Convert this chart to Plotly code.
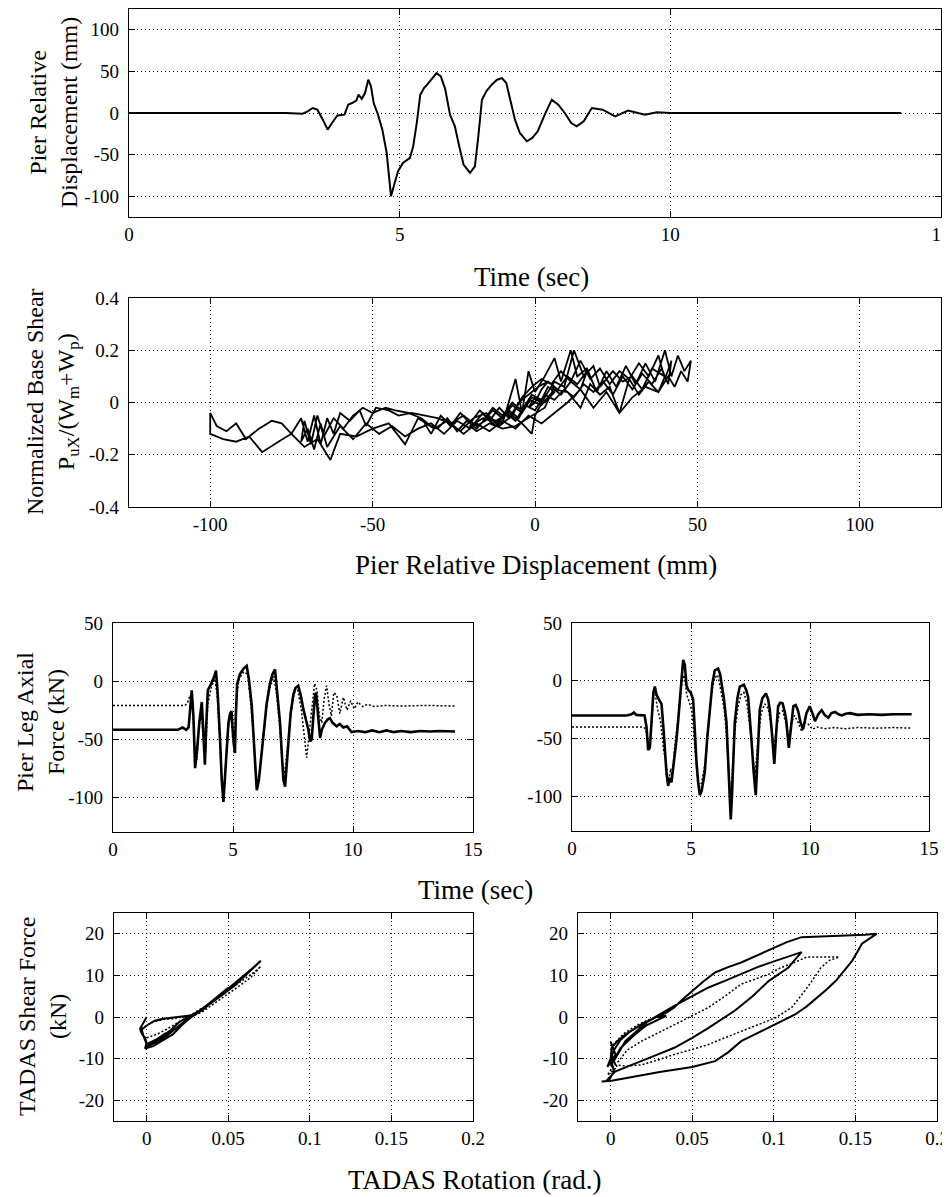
"""Pier displacement, base shear, leg axial force and TADAS hysteresis plots."""

import plotly.graph_objects as go

# ---- panel 1: pier relative displacement vs time ----
disp_time = [0, 2.9, 3.2, 3.3, 3.39, 3.48, 3.58, 3.67, 3.75, 3.85, 3.98, 4.05, 4.12, 4.2,
             4.24, 4.3, 4.36, 4.42, 4.47, 4.52, 4.6, 4.68, 4.76, 4.84, 4.9, 4.97, 5.06,
             5.19, 5.25, 5.32, 5.38, 5.45, 5.52, 5.6, 5.68, 5.76, 5.84, 5.93, 6.02, 6.1,
             6.18, 6.3, 6.39, 6.45, 6.52, 6.6, 6.7, 6.8, 6.89, 6.97, 7.05, 7.13, 7.22,
             7.35, 7.45, 7.55, 7.68, 7.81, 7.93, 8.05, 8.17, 8.27, 8.4, 8.55, 8.75, 8.98,
             9.22, 9.4, 9.53, 9.75, 10.0, 14.26]
disp_mm = [0, 0, -1, 2, 6, 4, -8, -20, -12, -3, -2, 10, 12, 15,
           22, 17, 24, 40, 32, 12, -2, -20, -48, -100, -86, -70, -60,
           -54, -40, -10, 22, 30, 35, 42, 48, 44, 29, -2, -16, -40,
           -62, -72, -64, -30, 16, 26, 34, 40, 42, 36, 14, -8, -24,
           -34, -30, -22, -2, 16, 10, 0, -12, -16, -10, 6, 4, -4,
           3, 0, -2, 1, 0, 0]

# ---- panel 2: normalized base shear vs displacement (displacement mm, shear) ----
base_shear_loop = [
    (0, 0.0), (2, 0.05), (4, 0.08), (6, 0.06), (3, -0.02), (-2, -0.06), (-6, -0.09),
    (-10, -0.1), (-14, -0.08), (-18, -0.11), (-20, -0.09), (-16, -0.06), (-12, -0.07),
    (-8, -0.04), (-4, -0.08), (-1, -0.12), (0, -0.05), (3, 0.02), (6, 0.08), (9, 0.06),
    (12, 0.2), (15, 0.1), (18, 0.14), (20, 0.06), (24, 0.12), (27, 0.08), (30, 0.1),
    (33, 0.05), (36, 0.13), (40, 0.1),
    (38, 0.04), (34, 0.06), (30, 0.02), (26, -0.04), (22, 0.04), (18, -0.02), (14, 0.05),
    (10, 0.0), (6, -0.04), (2, -0.08), (-2, -0.05), (-6, -0.1), (-10, -0.07), (-14, -0.11),
    (-18, -0.08), (-22, -0.12), (-27, -0.07), (-31, -0.1), (-36, -0.06), (-40, -0.16),
    (-45, -0.08), (-50, -0.1), (-55, -0.13), (-60, -0.12), (-63, -0.22), (-67, -0.14),
    (-71, -0.17), (-75, -0.12), (-79, -0.15), (-84, -0.19), (-88, -0.13), (-92, -0.15),
    (-96, -0.14), (-100, -0.12), (-100, -0.04),
    (-98, -0.09), (-95, -0.11), (-92, -0.08), (-89, -0.14), (-85, -0.1), (-81, -0.07),
    (-78, -0.08), (-75, -0.12), (-72, -0.06), (-70, -0.15), (-68, -0.05), (-66, -0.16),
    (-64, -0.06), (-62, -0.12), (-60, -0.04), (-57, -0.07), (-54, -0.03), (-52, -0.09),
    (-49, -0.02), (-45, -0.03), (-42, -0.05), (-38, -0.04), (-34, -0.05), (-30, -0.06),
    (-26, -0.08), (-22, -0.05), (-18, -0.09), (-14, -0.06), (-10, -0.08), (-6, 0.09),
    (-4, -0.04), (-2, 0.12), (0, 0.04), (3, 0.1), (6, 0.17), (8, 0.08), (11, 0.2),
    (13, 0.1), (16, 0.13), (19, 0.04), (22, 0.12), (25, 0.06), (28, 0.14), (31, 0.07),
    (34, 0.15), (37, 0.08), (40, 0.2), (42, 0.1), (44, 0.18), (46, 0.12), (48, 0.16),
    (47, 0.08), (45, 0.12), (43, 0.06), (41, 0.1), (38, 0.04), (35, 0.08), (32, 0.03),
    (29, 0.09), (26, -0.04), (23, 0.06), (20, 0.03), (17, 0.07), (14, -0.02), (10, 0.04),
    (6, 0.05), (2, -0.01), (-2, 0.01), (-5, -0.06), (-8, -0.03), (-12, -0.08), (-16, -0.04),
    (-20, -0.1), (-24, -0.07), (-28, -0.12), (-32, -0.08), (-36, -0.1), (-40, -0.13),
    (-44, -0.09), (-48, -0.12), (-52, -0.08), (-56, -0.14), (-60, -0.09), (-64, -0.17),
    (-66, -0.08), (-68, -0.18), (-70, -0.1), (-72, -0.15),
    (-71, -0.07), (-69, -0.16), (-67, -0.05), (-65, -0.13), (-62, -0.06), (-59, -0.1),
    (-56, -0.05), (-53, -0.02), (-50, -0.04), (-46, -0.02), (-43, -0.03), (-39, -0.04),
    (-35, -0.06), (-31, -0.1), (-27, -0.07), (-23, -0.11), (-19, -0.06), (-15, -0.04),
    (-11, -0.09), (-7, -0.05), (-4, 0.02), (-1, 0.06), (2, 0.09), (5, 0.07), (8, 0.12),
    (11, 0.08), (14, 0.16), (17, 0.09), (20, 0.13), (23, 0.07), (26, 0.12), (29, 0.09),
    (32, 0.15), (35, 0.1), (38, 0.18), (40, 0.09), (42, 0.16),
    (41, 0.07), (39, 0.13), (36, 0.07), (33, 0.11), (30, 0.05), (27, 0.1), (24, 0.03),
    (21, 0.08), (18, 0.04), (15, 0.07), (12, 0.02), (9, 0.05), (6, 0.01), (3, 0.03),
    (0, -0.03), (-3, -0.01), (-6, -0.07), (-9, -0.04), (-12, -0.09), (-15, -0.06),
    (-18, -0.1), (-21, -0.07), (-24, -0.11), (-27, -0.06), (-30, -0.1), (-34, -0.08),
    (-32, -0.12), (-29, -0.05), (-26, -0.09), (-23, -0.04), (-20, -0.08), (-17, -0.03),
    (-14, -0.07), (-11, -0.02), (-8, -0.06), (-5, 0.0), (-2, 0.03), (1, 0.06), (4, 0.08),
    (7, 0.05), (10, 0.1), (13, 0.07), (16, 0.12),
    (14, 0.05), (11, 0.08), (8, 0.03), (5, 0.06), (2, 0.0), (-1, 0.02), (-4, -0.04),
    (-7, -0.01), (-10, -0.06), (-13, -0.03), (-16, -0.07),
    (-13, -0.02), (-10, -0.05), (-7, 0.0), (-4, -0.03), (-1, 0.03), (2, 0.01), (4, 0.06),
    (6, 0.04), (3, 0.0), (0, 0.02), (-2, -0.02), (0, 0.0),
]

# ---- panel 3: pier leg axial force vs time (sec, kN) ----
axial_left_solid = [
    (0, -42), (2.7, -42), (2.9, -40), (3.05, -42), (3.15, -40), (3.28, -8), (3.35, -30),
    (3.42, -75), (3.5, -60), (3.6, -35), (3.7, -18), (3.76, -50), (3.83, -72), (3.88, -40),
    (3.95, -8), (4.05, -4), (4.15, 0), (4.22, 4), (4.29, 9), (4.36, -10), (4.46, -50),
    (4.53, -85), (4.6, -104), (4.66, -85), (4.73, -55), (4.81, -36), (4.88, -28), (4.94, -26),
    (5.01, -50), (5.08, -62), (5.12, -30), (5.17, -3), (5.29, 6), (5.45, 11), (5.57, 13),
    (5.66, 2), (5.78, -21), (5.86, -48), (5.92, -72), (5.99, -94), (6.08, -85), (6.2, -62),
    (6.3, -40), (6.4, -20), (6.54, -2), (6.65, 6), (6.75, 10), (6.85, -10), (6.96, -36),
    (7.04, -65), (7.1, -85), (7.17, -91), (7.24, -72), (7.3, -50), (7.4, -28), (7.51, -12),
    (7.6, -6), (7.72, -4), (7.82, -12), (7.93, -24), (8.05, -33), (8.14, -42), (8.22, -52),
    (8.28, -50), (8.35, -30), (8.42, -12), (8.46, -10), (8.53, -25), (8.63, -49), (8.7, -42),
    (8.83, -36), (8.95, -33), (9.04, -32), (9.15, -36), (9.32, -39), (9.45, -37), (9.6, -40),
    (9.75, -39), (9.94, -44), (10.2, -43), (10.5, -44), (10.8, -42.5), (11.1, -44),
    (11.4, -42.5), (11.7, -44), (12, -43), (12.4, -44), (12.8, -43), (13.2, -43.5),
    (13.6, -43), (14.25, -43.5),
]
axial_left_dotted = [
    (0, -21), (3.0, -21), (3.1, -19), (3.22, -12), (3.3, -15), (3.4, -55), (3.5, -68),
    (3.58, -40), (3.68, -25), (3.78, -55), (3.86, -62), (3.95, -20), (4.1, -5), (4.25, 2),
    (4.35, -15), (4.45, -55), (4.55, -90), (4.62, -96), (4.7, -70), (4.8, -40), (4.9, -30),
    (5.0, -45), (5.06, -55), (5.12, -20), (5.25, 2), (5.45, 8), (5.6, 6), (5.72, -15),
    (5.85, -45), (5.95, -80), (6.05, -88), (6.15, -70), (6.28, -45), (6.42, -18), (6.55, -5),
    (6.7, 4), (6.82, -12), (6.95, -40), (7.05, -70), (7.15, -80), (7.28, -55), (7.4, -30),
    (7.55, -10), (7.7, -8), (7.85, -25), (7.98, -48), (8.07, -66), (8.15, -50), (8.25, -30),
    (8.4, -2), (8.5, -8), (8.6, -30), (8.7, -36), (8.8, -15), (8.9, -4), (9.0, -20),
    (9.1, -30), (9.2, -10), (9.32, -12), (9.45, -28), (9.6, -14), (9.75, -25), (9.9, -17),
    (10.05, -24), (10.2, -18), (10.4, -22), (10.6, -20), (10.9, -22), (11.3, -21),
    (12, -21.5), (13, -21), (14.25, -21.5),
]
axial_right_solid = [
    (0, -30), (2.3, -30), (2.5, -29), (2.6, -27.5), (2.7, -29.5), (3.05, -30), (3.13, -40),
    (3.2, -60), (3.27, -58), (3.35, -30), (3.42, -10), (3.48, -5), (3.55, -12), (3.65, -16),
    (3.76, -20), (3.84, -40), (3.9, -59), (3.97, -80), (4.04, -91), (4.1, -84), (4.18, -88),
    (4.25, -76), (4.32, -65), (4.39, -51), (4.46, -35), (4.53, -16), (4.6, 5), (4.67, 18),
    (4.74, 14), (4.81, -4), (4.88, -8), (4.98, -10), (5.09, -16), (5.16, -45), (5.23, -70),
    (5.3, -88), (5.37, -99), (5.45, -95), (5.58, -79), (5.68, -50), (5.79, -22), (5.9, -2),
    (6.0, 9), (6.14, 10.5), (6.22, 6), (6.28, -2), (6.38, -15), (6.49, -36), (6.56, -70),
    (6.63, -105), (6.67, -120), (6.72, -100), (6.78, -65), (6.84, -36), (6.95, -15),
    (7.05, -5), (7.22, -3.5), (7.32, -8), (7.4, -14), (7.47, -30), (7.54, -51), (7.63, -78),
    (7.72, -99), (7.8, -65), (7.89, -25), (8.0, -15), (8.15, -11), (8.24, -16), (8.31, -25),
    (8.4, -45), (8.5, -72), (8.58, -45), (8.66, -22), (8.75, -19), (8.85, -19.5), (8.95, -28),
    (9.0, -34), (9.11, -58), (9.2, -40), (9.3, -22), (9.4, -21), (9.5, -26), (9.6, -36),
    (9.71, -42), (9.85, -28), (9.99, -22), (10.1, -28), (10.21, -35), (10.35, -29),
    (10.49, -25.5), (10.63, -30), (10.77, -32), (10.9, -28), (11.05, -27), (11.2, -29),
    (11.33, -30), (11.5, -28.5), (11.68, -28), (12.0, -29.5), (12.5, -29), (13.0, -29.5),
    (13.5, -29), (14.27, -29),
]
axial_right_dotted = [
    (0, -40), (3.0, -40), (3.1, -42), (3.2, -55), (3.3, -52), (3.42, -15), (3.5, -12),
    (3.6, -25), (3.72, -35), (3.85, -60), (3.95, -70), (4.05, -88), (4.15, -76), (4.2, -85),
    (4.3, -60), (4.4, -40), (4.5, -22), (4.62, -2), (4.72, 5), (4.82, -12), (4.95, -20),
    (5.05, -28), (5.15, -55), (5.25, -80), (5.35, -92), (5.45, -88), (5.6, -70), (5.72, -40),
    (5.85, -12), (5.98, 2), (6.12, 5), (6.25, -8), (6.4, -25), (6.5, -50), (6.6, -85),
    (6.68, -95), (6.76, -70), (6.86, -40), (6.98, -22), (7.1, -12), (7.22, -10), (7.35, -20),
    (7.5, -45), (7.62, -70), (7.7, -80), (7.82, -50), (7.95, -28), (8.1, -20), (8.25, -24),
    (8.38, -40), (8.48, -58), (8.6, -40), (8.72, -28), (8.85, -26), (9.0, -38), (9.1, -50),
    (9.22, -36), (9.35, -30), (9.5, -36), (9.65, -44), (9.8, -36), (9.95, -38), (10.1, -42),
    (10.3, -40), (10.6, -41.5), (11, -40.5), (11.5, -41.5), (12, -40.5), (12.8, -41),
    (13.5, -40.5), (14.27, -41),
]

# ---- panel 4: TADAS shear force vs rotation (rad, kN) ----
tadas_left_solid = [
    (0.0, 0.0), (-0.002, -1.5), (-0.004, -2.8), (-0.003, -4.0), (-0.001, -5.0), (0.0, -6.2),
    (-0.001, -7.6), (0.004, -7.0), (0.01, -5.6), (0.016, -4.2), (0.022, -1.8), (0.028, 0.2),
    (0.034, 1.8), (0.04, 3.8), (0.046, 5.5), (0.052, 7.4), (0.058, 9.3), (0.064, 11.4),
    (0.07, 13.5), (0.066, 12.0), (0.06, 9.8), (0.054, 7.6), (0.048, 5.8), (0.042, 4.0),
    (0.036, 2.2), (0.03, 0.6), (0.024, -0.8), (0.018, -2.8), (0.012, -4.6), (0.006, -6.0),
    (0.0, -7.2), (0.003, -6.4), (0.008, -5.2), (0.014, -3.4), (0.02, -1.2), (0.026, 0.0),
    (0.032, 1.4), (0.038, 3.2), (0.044, 5.2), (0.05, 7.0), (0.046, 5.6), (0.04, 3.6),
    (0.034, 1.6), (0.028, 0.4), (0.022, 0.1), (0.016, -0.2), (0.01, -0.4), (0.005, -0.9),
    (0.001, -1.8), (-0.003, -3.0), (-0.002, -4.5), (0.0, -6.5), (0.006, -5.4), (0.012, -3.8),
]
tadas_left_dotted = [
    (0.0, -5.0), (0.006, -4.2), (0.012, -3.0), (0.018, -1.6), (0.024, -0.3), (0.03, 1.0),
    (0.036, 2.6), (0.042, 4.2), (0.048, 5.8), (0.054, 7.4), (0.06, 9.0), (0.066, 10.8),
    (0.07, 12.2), (0.064, 9.6), (0.058, 7.8), (0.052, 6.2), (0.046, 4.6), (0.04, 3.0),
    (0.034, 1.2), (0.028, 0.2), (0.022, 0.0), (0.016, -0.4), (0.01, -0.6), (0.004, -1.2),
    (-0.002, -2.5), (-0.004, -3.6),
]
tadas_right_solid = [
    (0.0, -6), (0.003, -9), (-0.002, -12), (0.002, -8), (0.006, -5.5), (0.012, -3.5),
    (0.02, -1.5), (0.028, 0.0), (0.034, 0.3), (0.03, -0.5), (0.022, -2.0), (0.014, -4.5),
    (0.006, -7.5), (0.0006, -11.5),
    (0.009, -5.8), (0.023, -1.0), (0.039, 2.7), (0.05, 5.0), (0.06, 7.1), (0.07, 8.7),
    (0.08, 10.3), (0.09, 12.0), (0.101, 13.5), (0.11, 14.6), (0.117, 15.6),
    (0.113, 13.8), (0.109, 11.9), (0.097, 8.7), (0.087, 5.0), (0.076, 1.5), (0.068, -0.6),
    (0.06, -2.6), (0.05, -5.0), (0.039, -7.4), (0.029, -9.0), (0.019, -10.6),
    (0.0027, -13.1), (-0.003, -15.5),
    (-0.0055, -15.5), (0.0006, -15.3), (0.01, -14.6), (0.019, -13.9), (0.03, -13.2),
    (0.039, -12.7), (0.05, -12.0), (0.064, -10.6), (0.072, -8.5), (0.08, -5.8),
    (0.09, -3.8), (0.101, -1.8), (0.113, 0.6), (0.12, 2.5), (0.127, 4.7), (0.132, 6.5),
    (0.138, 8.7), (0.143, 11.0), (0.148, 13.5), (0.151, 15.5), (0.154, 17.6), (0.16, 19.2),
    (0.163, 20.0),
    (0.156, 19.8), (0.14, 19.6), (0.125, 19.4), (0.117, 19.2), (0.108, 18.0), (0.101, 16.8),
    (0.09, 15.0), (0.08, 13.1), (0.072, 12.0), (0.064, 10.7), (0.057, 8.6), (0.05, 6.3),
    (0.044, 4.2), (0.039, 2.3), (0.034, 1.0), (0.029, 0.2), (0.024, -0.8), (0.019, -1.8),
    (0.014, -3.0), (0.009, -4.2), (0.004, -5.8), (0.0006, -7.4), (0.0, -10),
    (0.002, -13), (-0.001, -15.3),
]
tadas_right_dotted = [
    (0.0, -9), (0.004, -12), (-0.002, -14), (0.002, -11.5), (0.01, -11.8), (0.019, -11.5),
    (0.03, -10.2), (0.039, -9.0), (0.05, -7.8), (0.06, -6.6), (0.07, -5.0), (0.08, -3.4),
    (0.09, -1.8), (0.101, -0.2), (0.111, 2.3), (0.115, 4.2), (0.119, 6.3), (0.124, 9.0),
    (0.129, 11.9), (0.134, 13.6), (0.14, 14.4), (0.13, 14.4), (0.12, 14.4), (0.112, 13.0),
    (0.104, 11.8), (0.097, 10.3), (0.088, 9.0), (0.08, 7.9), (0.07, 5.0), (0.06, 2.3),
    (0.05, 0.3), (0.039, -1.8), (0.03, -3.6), (0.019, -5.8), (0.01, -8.0), (0.005, -10.6),
    (0.0, -12.0), (0.002, -6.5), (0.008, -4.0), (0.016, -2.0), (0.024, -0.5),
]

# ---- tick labels ----
time_ticks = [0, 5, 10, 15]
disp_ticks = [-100, -50, 0, 50, 100]
disp_tick_text = ["-100", "-50", "0", "50", "100"]
shear_ticks = [-0.4, -0.2, 0, 0.2, 0.4]
shear_tick_text = ["-0.4", "-0.2", "0", "0.2", "0.4"]
axial_ticks = [-100, -50, 0, 50]
axial_tick_text = ["-100", "-50", "0", "50"]
rot_ticks = [0, 0.05, 0.1, 0.15, 0.2]
rot_tick_text = ["0", "0.05", "0.1", "0.15", "0.2"]
tadas_ticks = [-20, -10, 0, 10, 20]
tadas_tick_text = ["-20", "-10", "0", "10", "20"]

FONT = "Liberation Serif"
# the page body keeps its default 8px margin, so the figure is drawn 8px in
OFF = 8
W, H = 950 - OFF, 1197 - OFF


def px_x(px):
    return (px - OFF) / W


def px_y(py):
    return 1 - (py - OFF) / H


def axis(x0, x1, rng, tickvals, ticktext, horizontal):
    """Boxed MATLAB-style axis with inside ticks and dotted grid."""
    return dict(
        domain=[x0, x1] if horizontal else [x1, x0],
        range=rng,
        tickmode="array",
        tickvals=tickvals,
        ticktext=ticktext,
        ticks="inside",
        ticklen=6,
        tickwidth=1,
        tickcolor="black",
        showline=True,
        linecolor="black",
        linewidth=1.2,
        mirror="ticks",
        showgrid=True,
        gridcolor="#111111",
        gridwidth=1,
        griddash="1px,3px",
        zeroline=False,
        automargin=False,
        ticklabeloverflow="allow",
        ticklabelstandoff=0 if horizontal else 5,
        tickfont=dict(family=FONT, size=19, color="black"),
    )


def unzip(pairs):
    return [p[0] for p in pairs], [p[1] for p in pairs]


fig = go.Figure()

solid = dict(color="black", width=2)
thick = dict(color="black", width=2.6)
dotted = dict(color="black", width=1.5, dash="2px,2px")

fig.add_trace(go.Scatter(x=disp_time, y=disp_mm, mode="lines", line=solid,
                         xaxis="x", yaxis="y"))
bx, by = unzip(base_shear_loop)
fig.add_trace(go.Scatter(x=bx, y=by, mode="lines", line=dict(color="black", width=1.8),
                         xaxis="x2", yaxis="y2"))
for series, style, ax in [
    (axial_left_dotted, dotted, 3), (axial_left_solid, thick, 3),
    (axial_right_dotted, dotted, 4), (axial_right_solid, thick, 4),
    (tadas_left_dotted, dotted, 5), (tadas_left_solid, solid, 5),
    (tadas_right_dotted, dotted, 6), (tadas_right_solid, solid, 6),
]:
    sx, sy = unzip(series)
    fig.add_trace(go.Scatter(x=sx, y=sy, mode="lines", line=style,
                             xaxis=f"x{ax}", yaxis=f"y{ax}"))

# panel boxes in window pixels: (left, right, top, bottom)
boxes = {
    1: (129, 941, 9, 217),
    2: (129, 941, 298, 507),
    3: (113, 473, 623, 832),
    4: (572, 929, 623, 831),
    5: (114, 473, 913, 1121),
    6: (578, 937, 913, 1121),
}
x_specs = {
    1: ([0, 15], time_ticks, [str(v) for v in time_ticks]),
    2: ([-125, 125], disp_ticks, disp_tick_text),
    3: ([0, 15], time_ticks, [str(v) for v in time_ticks]),
    4: ([0, 15], time_ticks, [str(v) for v in time_ticks]),
    5: ([-0.02, 0.2], rot_ticks, rot_tick_text),
    6: ([-0.02, 0.2], rot_ticks, rot_tick_text),
}
y_specs = {
    1: ([-125, 125], disp_ticks, disp_tick_text),
    2: ([-0.4, 0.4], shear_ticks, shear_tick_text),
    3: ([-130, 50], axial_ticks, axial_tick_text),
    4: ([-130, 50], axial_ticks, axial_tick_text),
    5: ([-25, 25], tadas_ticks, tadas_tick_text),
    6: ([-25, 25], tadas_ticks, tadas_tick_text),
}

layout = dict(
    template="none",
    width=W, height=H, autosize=False,
    margin=dict(l=0, r=0, t=0, b=0),
    paper_bgcolor="white", plot_bgcolor="white",
    showlegend=False,
    font=dict(family=FONT, color="black"),
)
for k, (l, r, t, b) in boxes.items():
    suffix = "" if k == 1 else str(k)
    xa = axis(px_x(l), px_x(r), *x_specs[k], horizontal=True)
    xa["anchor"] = f"y{suffix}"
    ya = axis(px_y(t), px_y(b), *y_specs[k], horizontal=False)
    ya["anchor"] = f"x{suffix}"
    layout[f"xaxis{suffix}"] = xa
    layout[f"yaxis{suffix}"] = ya

fig.update_layout(**layout)

titles = [
    ("Time (sec)", 531, 277, 0, 27),
    ("Pier Relative<br>Displacement (mm)", 53, 113, -90, 24),
    ("Pier Relative Displacement (mm)", 536, 565, 0, 27),
    ("Normalized Base Shear<br>P<sub>uX</sub>/(W<sub>m</sub>+W<sub>p</sub>)", 52, 402, -90, 24),
    ("Pier Leg Axial<br>Force (kN)", 40, 722, -90, 24),
    ("Time (sec)", 475, 890, 0, 27),
    ("TADAS Shear Force<br>(kN)", 42, 1017, -90, 24),
    ("TADAS Rotation (rad.)", 475, 1180, 0, 27),
]
for text, x, y, angle, size in titles:
    fig.add_annotation(
        text=text, x=px_x(x), y=px_y(y), xref="paper", yref="paper",
        xanchor="center", yanchor="middle", showarrow=False, textangle=angle,
        font=dict(family=FONT, size=size, color="black"),
    )

fig.write_html("out.html")
